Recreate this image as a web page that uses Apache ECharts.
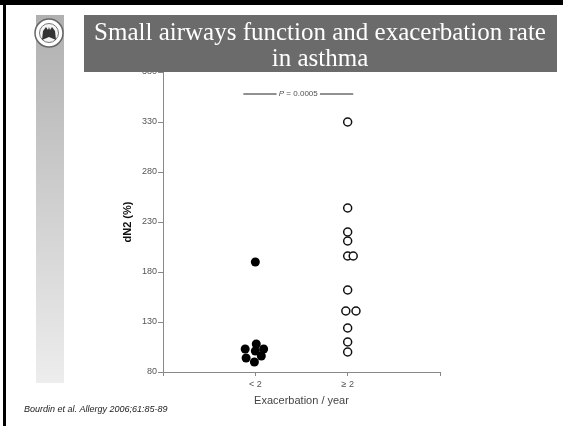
<!DOCTYPE html>
<html><head><meta charset="utf-8">
<script src="https://cdn.jsdelivr.net/npm/echarts@6/dist/echarts.min.js"></script>
<style>html,body{margin:0;padding:0;background:#fff}#c{width:563px;height:426px}</style>
</head><body><div id="c"></div>
<script>
const titleLines = ['Small airways function and exacerbation rate', 'in asthma'];
const citation = 'Bourdin et al. Allergy 2006;61:85-89';
const yAxisName = 'dN2 (%)';
const xAxisName = 'Exacerbation / year';
const categories = ['< 2', '\u2265 2'];
const yTicks = [80, 130, 180, 230, 280, 330, 380];
// group "< 2" (filled): x position around category 1 (jitter), y value
const lowX = [1.0, 0.89, 1.01, 1.09, 0.90, 1.065, 0.99, 1.0];
const lowY = [190, 103, 108, 103, 94, 96, 90, 101];
// group ">= 2" (open): x position around category 2 (jitter), y value
const highX = [2.0, 2.0, 2.0, 2.0, 2.0, 2.06, 2.0, 1.98, 2.09, 2.0, 2.0, 2.0];
const highY = [330, 244, 220, 211, 196, 196, 162, 141, 141, 124, 110, 100];
const pText = 'P = 0.0005';
const pY = 358;
const pBracketX = [0.87, 1.23, 1.70, 2.06];

const chart = echarts.init(document.getElementById('c'), null, {renderer: 'canvas'});
const sans = '"Liberation Sans", Arial, sans-serif';
const serif = '"Liberation Serif", "Times New Roman", serif';

const lowData = lowX.map((x, i) => [x, lowY[i]]);
const highData = highX.map((x, i) => [x, highY[i]]);
const bracketData = [[pBracketX[0], pY], [pBracketX[1], pY], '-', [pBracketX[2], pY], [pBracketX[3], pY]];
const midX = (pBracketX[1] + pBracketX[2]) / 2;

chart.setOption({
  animation: false,
  backgroundColor: '#fff',
  grid: {left: 163, right: 123, top: 72, bottom: 54, containLabel: false},
  xAxis: {
    type: 'value', min: 0, max: 3, interval: 1,
    axisLine: {show: true, lineStyle: {color: '#888', width: 1}},
    axisTick: {show: true, length: 4, lineStyle: {color: '#888'}},
    splitLine: {show: false},
    axisLabel: {
      fontSize: 9, color: '#555', fontFamily: sans, margin: 8,
      formatter: v => (v >= 1 && v <= categories.length && Number.isInteger(v)) ? categories[v - 1] : ''
    },
    name: xAxisName, nameLocation: 'middle', nameGap: 23,
    nameTextStyle: {fontSize: 11, color: '#444', fontFamily: sans}
  },
  yAxis: {
    type: 'value', min: yTicks[0], max: yTicks[yTicks.length - 1], interval: 50,
    axisLine: {show: true, lineStyle: {color: '#888', width: 1}},
    axisTick: {show: true, length: 5, lineStyle: {color: '#888'}},
    splitLine: {show: false},
    axisLabel: {fontSize: 9, color: '#555', fontFamily: sans, margin: 6},
    name: yAxisName, nameLocation: 'middle', nameGap: 30,
    nameTextStyle: {fontSize: 11, fontWeight: 'bold', color: '#111', fontFamily: sans}
  },
  series: [
    {
      type: 'scatter', data: lowData, symbol: 'circle', symbolSize: 9,
      itemStyle: {color: '#000', opacity: 1}, z: 3
    },
    {
      type: 'scatter', data: highData, symbol: 'circle', symbolSize: 8,
      itemStyle: {color: '#fff', borderColor: '#111', borderWidth: 1.5, opacity: 1}, z: 3
    },
    {
      type: 'line', data: bracketData, symbol: 'none', connectNulls: false,
      lineStyle: {color: '#222', width: 1}, z: 2
    },
    {
      type: 'scatter', data: [[midX, pY]], symbolSize: 0,
      label: {
        show: true, position: 'inside', formatter: '{i|P} = 0.0005',
        fontSize: 8, color: '#222', fontFamily: sans,
        rich: {i: {fontStyle: 'italic', fontSize: 8, color: '#222', fontFamily: sans}}
      }
    }
  ],
  graphic: [
    {type: 'rect', shape: {x: 0, y: 0, width: 563, height: 5}, style: {fill: '#000'}, z: 200},
    {type: 'rect', shape: {x: 3, y: 0, width: 3, height: 426}, style: {fill: '#000'}, z: 200},
    {type: 'rect', shape: {x: 36, y: 15, width: 28, height: 368},
      style: {fill: new echarts.graphic.LinearGradient(0, 0, 0, 1, [{offset: 0, color: '#b0b0b0'}, {offset: 1, color: '#ededed'}])}, z: 100},
    {type: 'circle', shape: {cx: 49, cy: 33, r: 14}, style: {fill: '#fff', stroke: '#666', lineWidth: 1.5}, z: 101},
    {type: 'circle', shape: {cx: 49, cy: 33, r: 9.5}, style: {fill: '#f4f4f4', stroke: '#777', lineWidth: 1}, z: 102},
    {type: 'polygon', shape: {points: [[42, 40], [43, 31], [46, 27], [48, 30], [49, 27], [50, 30], [52, 27], [55, 31], [56, 40], [49, 37]]},
      style: {fill: '#333'}, z: 103},
    {type: 'rect', shape: {x: 84, y: 15, width: 473, height: 57}, style: {fill: '#6b6b6b'}, z: 100},
    {type: 'text', x: 320, y: 20, z: 101,
      style: {text: titleLines.join('\n'), fill: '#fff', font: '25px ' + serif, textAlign: 'center', lineHeight: 26}},
    {type: 'text', x: 24, y: 405, z: 101,
      style: {text: citation, fill: '#222', font: 'italic 9px ' + sans, textAlign: 'left'}}
  ]
});
</script></body></html>
